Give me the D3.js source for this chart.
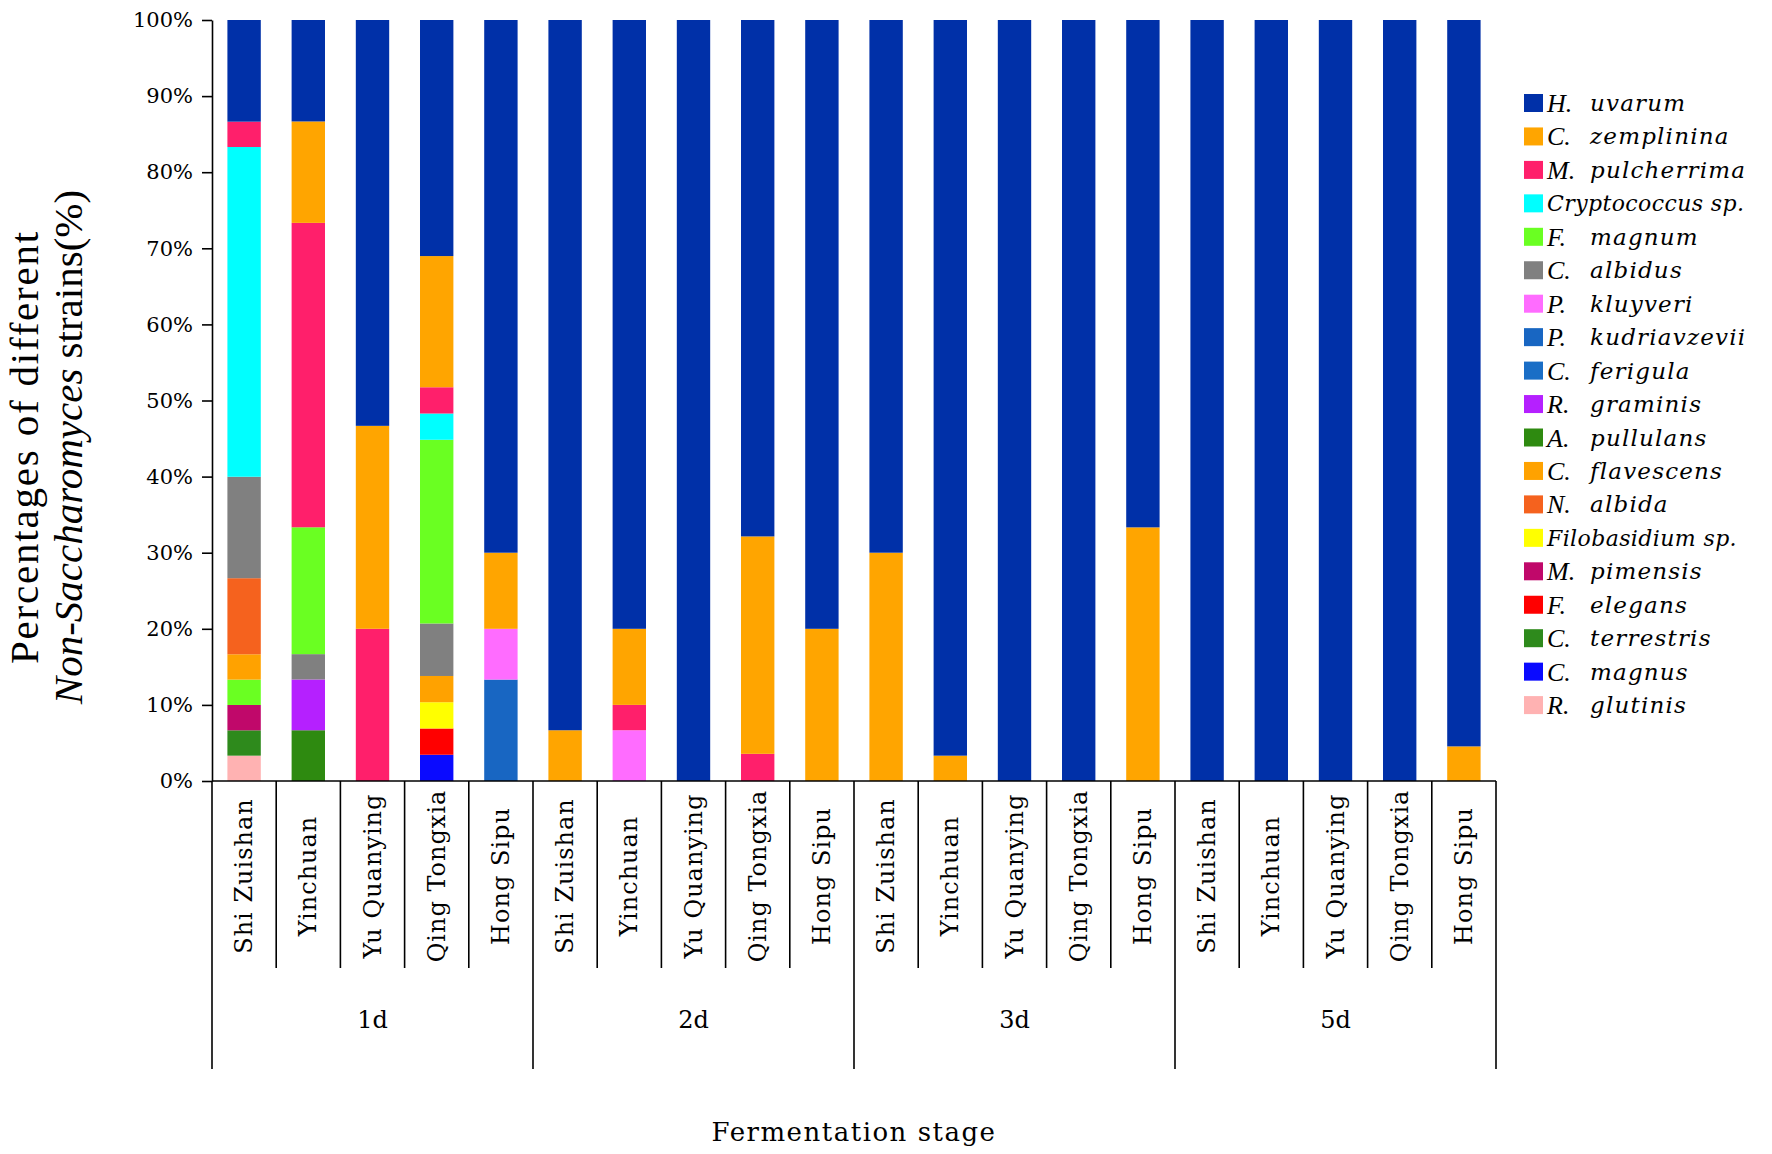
<!DOCTYPE html>
<html>
<head>
<meta charset="utf-8">
<script src="https://cdn.jsdelivr.net/npm/d3@7"></script>
<style>
  html, body { margin: 0; padding: 0; background: #fff; }
</style>
</head>
<body>
<div id="chart"></div>
<script>
(function () {
    // categories
    var stages = ["1d", "2d", "3d", "5d"];
    var sites = ["Shi Zuishan", "Yinchuan", "Yu Quanying", "Qing Tongxia", "Hong Sipu"];

    // legend order, top to bottom
    var species = ["H. uvarum", "C. zemplinina", "M. pulcherrima", "Cryptococcus sp.", "F. magnum",
        "C. albidus", "P. kluyveri", "P. kudriavzevii", "C. ferigula", "R. graminis", "A. pullulans",
        "C. flavescens", "N. albida", "Filobasidium sp.", "M. pimensis", "F. elegans", "C. terrestris",
        "C. magnus", "R. glutinis"];
    var speciesColors = ["#0030a8", "#ffa500", "#ff1f6b", "#00ffff", "#6aff22",
        "#808080", "#ff6cff", "#1866c2", "#1a6ec6", "#b520ff", "#2e8a10",
        "#ffa200", "#f5621e", "#ffff00", "#c0086a", "#ff0000", "#2e8a1c",
        "#0a0aff", "#ffb2b2"];

    var yTicks = [0, 10, 20, 30, 40, 50, 60, 70, 80, 90, 100];

    // percentages per bar, bottom to top, one list per site
    var day1 = [
        [["R. glutinis", 3.33], ["C. terrestris", 3.33], ["M. pimensis", 3.33], ["F. magnum", 3.33],
         ["C. flavescens", 3.33], ["N. albida", 10], ["C. albidus", 13.33], ["Cryptococcus sp.", 43.33],
         ["M. pulcherrima", 3.33], ["H. uvarum", 13.36]],
        [["A. pullulans", 6.67], ["R. graminis", 6.67], ["C. albidus", 3.33], ["F. magnum", 16.67],
         ["M. pulcherrima", 40], ["C. zemplinina", 13.33], ["H. uvarum", 13.33]],
        [["M. pulcherrima", 20], ["C. zemplinina", 26.67], ["H. uvarum", 53.33]],
        [["C. magnus", 3.45], ["F. elegans", 3.45], ["Filobasidium sp.", 3.45], ["C. flavescens", 3.45],
         ["C. albidus", 6.9], ["F. magnum", 24.14], ["Cryptococcus sp.", 3.45], ["M. pulcherrima", 3.45],
         ["C. zemplinina", 17.24], ["H. uvarum", 31.02]],
        [["P. kudriavzevii", 13.33], ["P. kluyveri", 6.67], ["C. zemplinina", 10], ["H. uvarum", 70]]
    ];
    var day2 = [
        [["C. zemplinina", 6.67], ["H. uvarum", 93.33]],
        [["P. kluyveri", 6.67], ["M. pulcherrima", 3.33], ["C. zemplinina", 10], ["H. uvarum", 80]],
        [["H. uvarum", 100]],
        [["M. pulcherrima", 3.57], ["C. zemplinina", 28.57], ["H. uvarum", 67.86]],
        [["C. zemplinina", 20], ["H. uvarum", 80]]
    ];
    var day3 = [
        [["C. zemplinina", 30], ["H. uvarum", 70]],
        [["C. zemplinina", 3.33], ["H. uvarum", 96.67]],
        [["H. uvarum", 100]],
        [["H. uvarum", 100]],
        [["C. zemplinina", 33.33], ["H. uvarum", 66.67]]
    ];
    var day5 = [
        [["H. uvarum", 100]],
        [["H. uvarum", 100]],
        [["H. uvarum", 100]],
        [["H. uvarum", 100]],
        [["C. zemplinina", 4.55], ["H. uvarum", 95.45]]
    ];
    var byStage = [day1, day2, day3, day5];

    // set the dimensions and margins of the graph
    var margin = { top: 20, right: 276, bottom: 373, left: 212 },
        width = 1772 - margin.left - margin.right,
        height = 1154 - margin.top - margin.bottom;

    var serif = "'DejaVu Serif', serif";

    var svg = d3.select("#chart")
        .append("svg")
        .attr("width", 1772)
        .attr("height", 1154)
        .append("g")
        .attr("transform", "translate(" + margin.left + "," + margin.top + ")");

    // one entry per bar
    var bars = [];
    stages.forEach(function (st, i) {
        sites.forEach(function (site, j) {
            bars.push({ id: st + "|" + site, stage: st, site: site, parts: byStage[i][j] });
        });
    });

    // segments with cumulative positions
    var segments = [];
    bars.forEach(function (b) {
        var ends = d3.cumsum(b.parts, function (p) { return p[1]; });
        b.parts.forEach(function (p, k) {
            segments.push({ id: b.id, name: p[0], y0: k ? ends[k - 1] : 0, y1: ends[k] });
        });
    });

    var x = d3.scaleBand()
        .domain(bars.map(function (b) { return b.id; }))
        .range([0, width])
        .paddingInner(0.48)
        .paddingOuter(0.24);

    var xStage = d3.scaleBand()
        .domain(stages)
        .range([0, width]);

    var y = d3.scaleLinear()
        .domain([0, 100])
        .range([height, 0]);

    var color = d3.scaleOrdinal()
        .domain(species)
        .range(speciesColors);

    // stacked bars
    svg.selectAll("rect.seg")
        .data(segments)
        .enter()
        .append("rect")
        .attr("class", "seg")
        .attr("x", function (d) { return x(d.id); })
        .attr("width", x.bandwidth())
        .attr("y", function (d) { return y(d.y1); })
        .attr("height", function (d) { return y(d.y0) - y(d.y1); })
        .attr("fill", function (d) { return color(d.name); });

    // Y axis
    var yAxis = svg.append("g")
        .call(d3.axisLeft(y)
            .tickValues(yTicks)
            .tickFormat(function (d) { return d + "%"; })
            .tickSize(10)
            .tickSizeOuter(0)
            .tickPadding(9));
    yAxis.select(".domain").attr("stroke", "#000").attr("stroke-width", 1.6);
    yAxis.selectAll(".tick line").attr("stroke", "#000").attr("stroke-width", 1.6);
    yAxis.selectAll(".tick text")
        .style("font-family", serif)
        .style("font-size", "21px")
        .attr("fill", "#000");

    // baseline and category table lines
    var step = x.step();
    svg.append("line")
        .attr("x1", 0).attr("x2", width)
        .attr("y1", height).attr("y2", height)
        .attr("stroke", "#000").attr("stroke-width", 1.6);

    svg.selectAll("line.sep")
        .data(d3.range(bars.length + 1))
        .enter()
        .append("line")
        .attr("class", "sep")
        .attr("x1", function (i) { return i * step; })
        .attr("x2", function (i) { return i * step; })
        .attr("y1", height)
        .attr("y2", function (i) { return i % sites.length === 0 ? height + 288 : height + 187; })
        .attr("stroke", "#000")
        .attr("stroke-width", 1.6);

    // site labels
    svg.selectAll("text.site")
        .data(bars)
        .enter()
        .append("text")
        .attr("class", "site")
        .attr("transform", function (b) {
            return "translate(" + (x(b.id) + x.bandwidth() / 2) + "," + (height + 95) + ") rotate(-90)";
        })
        .attr("text-anchor", "middle")
        .attr("dominant-baseline", "central")
        .style("font-family", serif)
        .style("font-size", "24px")
        .style("letter-spacing", "1px")
        .text(function (b) { return b.site; });

    // stage labels
    svg.selectAll("text.stage")
        .data(stages)
        .enter()
        .append("text")
        .attr("class", "stage")
        .attr("x", function (d) { return xStage(d) + xStage.bandwidth() / 2; })
        .attr("y", height + 247)
        .attr("text-anchor", "middle")
        .style("font-family", serif)
        .style("font-size", "24px")
        .text(function (d) { return d; });

    // x title
    svg.append("text")
        .attr("x", width / 2)
        .attr("y", height + 360)
        .attr("text-anchor", "middle")
        .style("font-family", serif)
        .style("font-size", "26px")
        .style("letter-spacing", "1.5px")
        .text("Fermentation stage");

    // y title, two lines
    var yTitle = svg.append("text")
        .attr("transform", "translate(" + (38 - margin.left) + "," + (447 - margin.top) + ") rotate(-90)")
        .attr("text-anchor", "middle")
        .style("font-family", "'Liberation Serif', 'Times New Roman', serif")
        .style("font-size", "41px");
    yTitle.append("tspan")
        .attr("x", 0).attr("y", 0)
        .style("letter-spacing", "1.8px")
        .text("Percentages of different");
    var l2 = yTitle.append("tspan")
        .attr("x", 0).attr("y", 44);
    l2.append("tspan").style("font-style", "italic").text("Non-Saccharomyces");
    l2.append("tspan").text(" strains(%)");

    // legend
    var legend = svg.append("g")
        .attr("transform", "translate(" + (1524 - margin.left) + "," + (103 - margin.top) + ")");
    var rows = legend.selectAll("g")
        .data(species)
        .enter()
        .append("g")
        .attr("transform", function (d, i) { return "translate(0," + (i * 33.45) + ")"; });
    rows.append("rect")
        .attr("x", 0).attr("y", -9)
        .attr("width", 19).attr("height", 18)
        .attr("fill", function (d) { return color(d); });
    rows.each(function (d) {
        var t = d3.select(this).append("text")
            .attr("y", 0)
            .attr("dominant-baseline", "central")
            .style("font-style", "italic");
        if (/ sp\.$/.test(d)) {
            t.append("tspan")
                .attr("x", 23)
                .style("font-family", serif)
                .style("font-size", "22px")
                .style("letter-spacing", "0.4px")
                .text(d);
        } else {
            var parts = d.split(" ");
            t.append("tspan")
                .attr("x", 23)
                .style("font-family", "'Liberation Serif', serif")
                .style("font-size", "26px")
                .text(parts[0]);
            t.append("tspan")
                .attr("x", 66)
                .style("font-family", serif)
                .style("font-size", "23px")
                .style("letter-spacing", "1.2px")
                .text(parts[1]);
        }
    });
})();
</script>
</body>
</html>
